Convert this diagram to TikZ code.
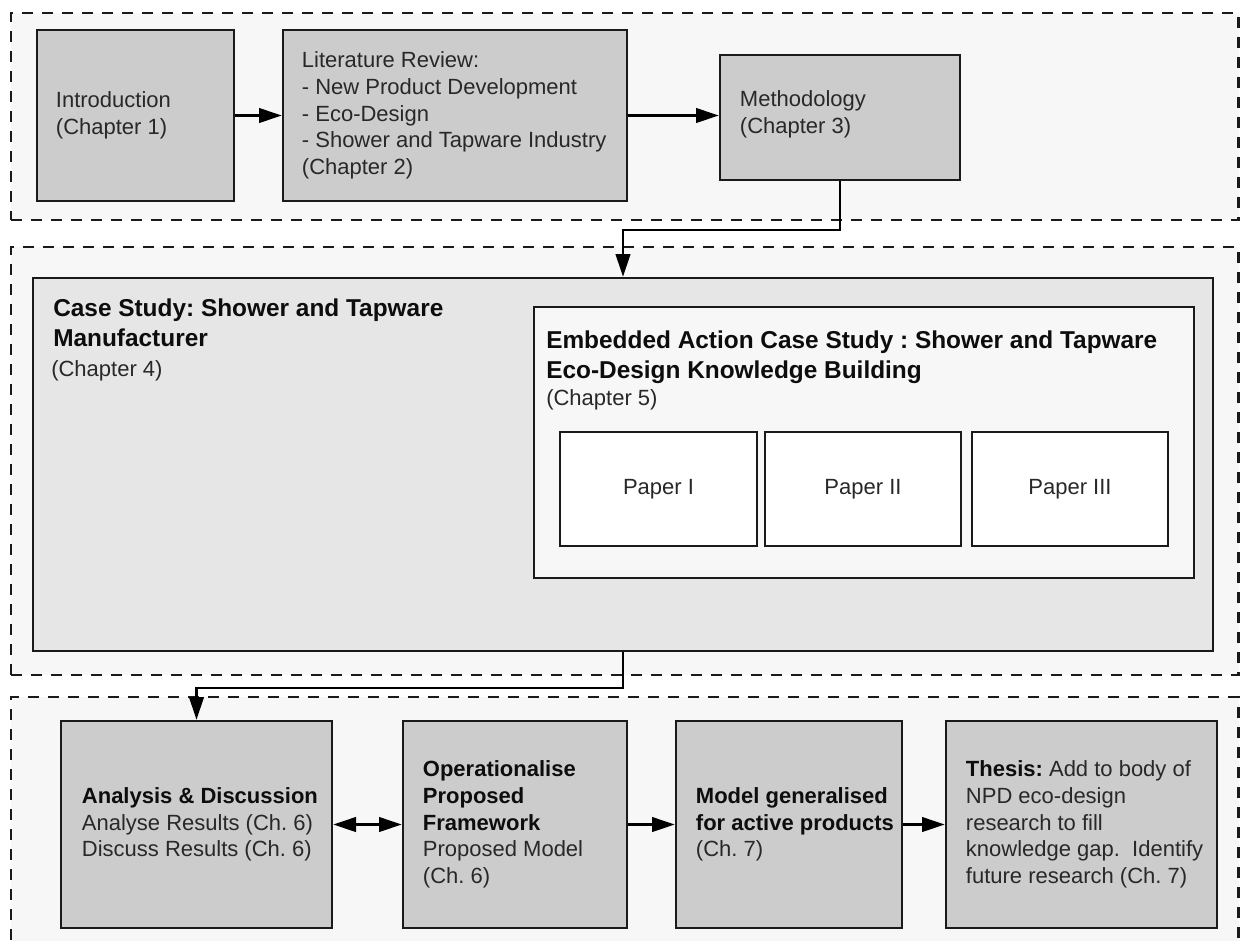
\documentclass[tikz,border=0pt]{standalone}
\usepackage{fontspec}
\setmainfont{Liberation Sans}
\usetikzlibrary{arrows.meta}
\frenchspacing

\definecolor{panelgrey}{HTML}{F7F7F7}
\definecolor{stepgrey}{HTML}{CCCCCC}
\definecolor{casegrey}{HTML}{E6E6E6}
\definecolor{inkline}{HTML}{1A1A1A}
\definecolor{bodytext}{HTML}{282828}
\definecolor{headtext}{HTML}{0D0D0D}
\newcommand{\strongtxt}[1]{{\color{headtext}\bfseries #1}}

\begin{document}
\begin{tikzpicture}[x=0.75pt,y=-0.75pt,
  sz/.style n args={2}{minimum width=#1*0.75pt, minimum height=#2*0.75pt},
  panel/.style={draw=inkline, line width=1.8pt, dash pattern=on 8.25pt off 6.75pt,
    fill=panelgrey, inner sep=0pt},
  stepbox/.style={draw=inkline, line width=2pt, fill=stepgrey, inner sep=0pt},
  casebox/.style={draw=inkline, line width=2pt, fill=casegrey, inner sep=0pt},
  embbox/.style={draw=inkline, line width=2pt, fill=panelgrey, inner sep=0pt},
  paperbox/.style={draw=inkline, line width=2pt, fill=white, inner sep=0pt,
    font=\fontsize{16.5pt}{20pt}\selectfont, text=bodytext},
  body/.style={font=\fontsize{16.5pt}{20pt}\selectfont, text=bodytext,
    align=left, inner sep=0pt, anchor=west},
  headline/.style={font=\fontsize{18.3pt}{22pt}\selectfont\bfseries, text=headtext,
    inner sep=0pt, anchor=base west},
  chapline/.style={font=\fontsize{16.5pt}{20pt}\selectfont, text=bodytext,
    inner sep=0pt, anchor=base west},
  tip/.tip={Triangle[length=17pt,width=11pt]},
  link/.style={draw=black, line width=1.6pt, -tip},
]
\fill[white] (0,0) rectangle (1241,940);
\useasboundingbox (0,0) rectangle (1241,940);
\clip (0,0) rectangle (1241,940);

% dashed grouping panels
\node[panel, sz={1227.5}{207}] (groupA) at (624.75,116.5) {};
\node[panel, sz={1227.5}{428}] (groupB) at (624.75,461) {};
\node[panel, sz={1227.5}{293}] (groupC) at (624.75,843.5) {};

% first row: introduction, literature, methodology
\node[stepbox, sz={197}{171}] (intro) at (135.5,115.5) {};
\node[body] (introtxt) at ([xshift=15pt]intro.west) {Introduction\\(Chapter 1)};

\node[stepbox, sz={344}{171}] (lit) at (455,115.5) {};
\node[body] (littxt) at ([xshift=15pt]lit.west)
  {Literature Review:\\- New Product Development\\- Eco-Design\\- Shower and Tapware Industry\\(Chapter 2)};

\node[stepbox, sz={240}{125}] (meth) at (840,117.5) {};
\node[body] (methtxt) at ([xshift=15.75pt,yshift=2.25pt]meth.west) {Methodology\\(Chapter 3)};

% case study with the embedded action case study
\node[casebox, sz={1180}{373}] (case) at (623,464.5) {};
\node[headline] (casehead1) at (53,316) {Case Study: Shower and Tapware};
\node[headline] (casehead2) at (53,346) {Manufacturer};
\node[chapline] (casech) at (51,376) {(Chapter 4)};

\node[embbox, sz={660}{271}] (emb) at (864,442.5) {};
\node[headline] (embhead1) at (546,348) {Embedded Action Case Study : Shower and Tapware};
\node[headline] (embhead2) at (546,378) {Eco-Design Knowledge Building};
\node[chapline] (embch) at (546,405) {(Chapter 5)};

\node[paperbox, sz={197}{114}] (paperI) at (658.5,489) {Paper I};
\node[paperbox, sz={196}{114}] (paperII) at (863,489) {Paper II};
\node[paperbox, sz={196}{114}] (paperIII) at (1070,489) {Paper III};

% last row: analysis, framework, model, thesis
\node[stepbox, sz={271}{207}] (ana) at (196.5,824.5) {};
\node[body] (anatxt) at ([xshift=16.5pt]ana.west)
  {\strongtxt{Analysis \& Discussion}\\Analyse Results (Ch. 6)\\Discuss Results (Ch. 6)};

\node[stepbox, sz={224}{207}] (oper) at (515,824.5) {};
\node[body] (opertxt) at ([xshift=15.75pt]oper.west)
  {\strongtxt{Operationalise}\\\strongtxt{Proposed}\\\strongtxt{Framework}\\Proposed Model\\(Ch. 6)};

\node[stepbox, sz={226}{207}] (model) at (789,824.5) {};
\node[body] (modeltxt) at ([xshift=15.75pt]model.west)
  {\strongtxt{Model generalised}\\\strongtxt{for active products}\\(Ch. 7)};

\node[stepbox, sz={271}{207}] (thesis) at (1081.5,824.5) {};
\node[body] (thesistxt) at ([xshift=15.75pt]thesis.west)
  {\strongtxt{Thesis:} Add to body of\\NPD eco-design\\research to fill\\knowledge gap.\ \ Identify\\future research (Ch. 7)};

% connectors
\draw[link] (intro.east) -- (lit.west);
\draw[link] (lit.east) -- (lit.east -| meth.west);
\draw[link] (meth.south) -- ++(0,49) -| (case.north);
\draw[link] (case.south) -- ++(0,36) -| (ana.north);
\draw[link, tip-tip] (ana.east) -- (oper.west);
\draw[link] (oper.east) -- (model.west);
\draw[link] (model.east) -- (thesis.west);
\end{tikzpicture}
\end{document}
